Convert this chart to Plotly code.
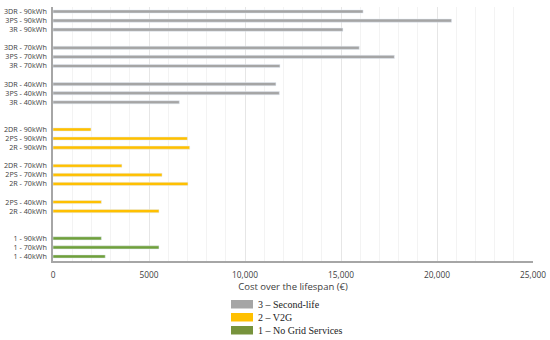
import plotly.graph_objects as go

# Category rows (top to bottom); "gapN" entries are empty spacer rows
row_order = ["3DR - 90kWh", "3PS - 90kWh", "3R - 90kWh", "gap1",
             "3DR - 70kWh", "3PS - 70kWh", "3R - 70kWh", "gap2",
             "3DR - 40kWh", "3PS - 40kWh", "3R - 40kWh", "gap3", "gap4",
             "2DR - 90kWh", "2PS - 90kWh", "2R - 90kWh", "gap5",
             "2DR - 70kWh", "2PS - 70kWh", "2R - 70kWh", "gap6",
             "2PS - 40kWh", "2R - 40kWh", "gap7", "gap8",
             "1 - 90kWh", "1 - 70kWh", "1 - 40kWh"]

second_life_cats = ["3DR - 90kWh", "3PS - 90kWh", "3R - 90kWh",
                    "3DR - 70kWh", "3PS - 70kWh", "3R - 70kWh",
                    "3DR - 40kWh", "3PS - 40kWh", "3R - 40kWh"]
second_life_vals = [16150, 20760, 15100, 15950, 17780, 11820, 11610, 11790, 6580]

v2g_cats = ["2DR - 90kWh", "2PS - 90kWh", "2R - 90kWh",
            "2DR - 70kWh", "2PS - 70kWh", "2R - 70kWh",
            "2PS - 40kWh", "2R - 40kWh"]
v2g_vals = [1980, 7000, 7120, 3590, 5680, 7030, 2520, 5520]

nogrid_cats = ["1 - 90kWh", "1 - 70kWh", "1 - 40kWh"]
nogrid_vals = [2520, 5520, 2720]

series_names = ["3 \u2013 Second-life", "2 \u2013 V2G", "1 \u2013 No Grid Services"]
series_colors = ["#a5a5a5", "#ffc000", "#70a03c"]
legend_colors = ["#a5a5a5", "#ffc000", "#77933c"]

x_tickvals = [0, 5000, 10000, 15000, 20000, 25000]
x_ticktext = ["0", "5000", "10,000", "15,000", "20,000", "25,000"]

W, H = 550, 340
L, R, T, B = 53, 17, 7, 79
plot_h = H - T - B
plot_w = W - L - R

y_tick_font = dict(family="Open Sans", size=7.2, color="#404040")
x_tick_font = dict(family="Open Sans", size=8.3, color="#404040")

fig = go.Figure()
for cats, vals, name, col in zip([second_life_cats, v2g_cats, nogrid_cats],
                                 [second_life_vals, v2g_vals, nogrid_vals],
                                 series_names, series_colors):
    fig.add_trace(go.Bar(y=cats, x=vals, orientation="h", name=name,
                         marker_color=col, width=0.35, showlegend=False))

# Legend drawn below the plot (compact rows as in the reference)
def px_to_paper_y(p):
    return (H - B - p) / plot_h

def px_to_paper_x(p):
    return (p - L) / plot_w

legend_rows_top = [300, 313, 326]
sw_h = 8.5
for top, name, col in zip(legend_rows_top, series_names, legend_colors):
    fig.add_shape(type="rect", xref="paper", yref="paper",
                  x0=px_to_paper_x(231), x1=px_to_paper_x(253),
                  y0=px_to_paper_y(top), y1=px_to_paper_y(top + sw_h),
                  fillcolor=col, line=dict(width=0))
    fig.add_annotation(xref="paper", yref="paper", x=px_to_paper_x(256),
                       y=px_to_paper_y(top + sw_h / 2), text=name, showarrow=False,
                       xanchor="left", yanchor="middle",
                       font=dict(family="Liberation Serif", size=10, color="#222222"))

fig.update_layout(
    width=W, height=H,
    margin=dict(l=L, r=R, t=T, b=B, autoexpand=False),
    paper_bgcolor="white", plot_bgcolor="white",
    barmode="overlay",
    showlegend=False,
    xaxis=dict(range=[0, 25000], tickvals=x_tickvals, ticktext=x_ticktext,
               tickfont=x_tick_font, showgrid=True, gridcolor="#e6e6e6", gridwidth=1,
               minor=dict(dtick=1000, showgrid=True, gridcolor="#f3f3f3", gridwidth=1),
               showline=True, linecolor="#a6a6a6", linewidth=2, zeroline=False,
               ticks="", automargin=False, ticklabelstandoff=5,
               title=dict(text="Cost over the lifespan (\u20ac)",
                          font=dict(family="Open Sans", size=9.5, color="#404040"),
                          standoff=2)),
    yaxis=dict(type="category", categoryorder="array", categoryarray=row_order,
               autorange="reversed", tickvals=row_order,
               ticktext=["" if r.startswith("gap") else r for r in row_order],
               tickfont=y_tick_font, showgrid=False, showline=True, automargin=False,
               linecolor="#a6a6a6", linewidth=1.5, ticks="", ticklabelstandoff=3),
)

fig.write_html("out.html", config={"displayModeBar": False},
               post_script="document.body.style.margin='0';document.body.style.overflow='hidden';")
